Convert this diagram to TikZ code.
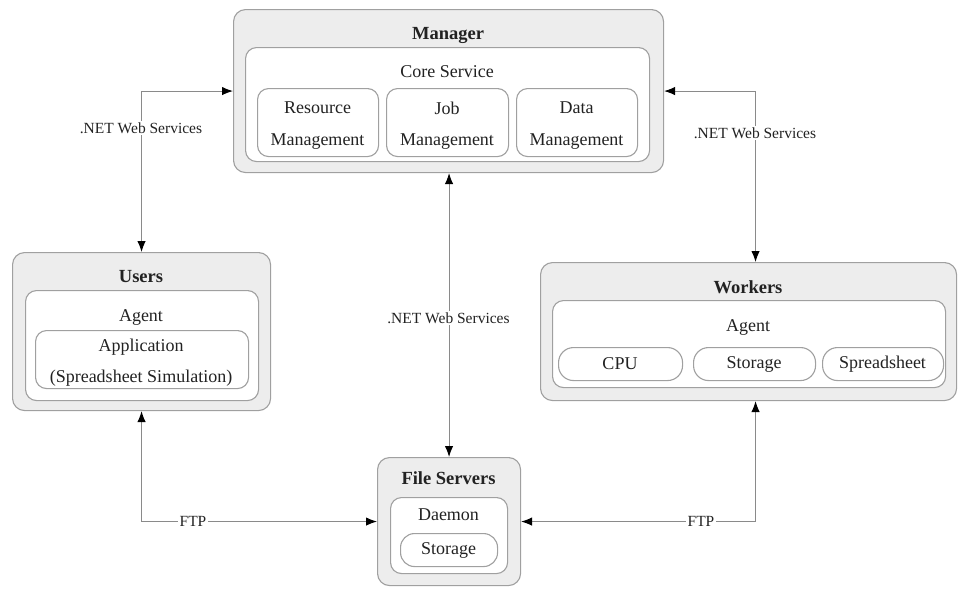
\documentclass[tikz,border=0pt]{standalone}
\usepackage{fontspec}
\setmainfont{Liberation Serif}
\usetikzlibrary{arrows.meta}
\definecolor{boxline}{HTML}{A0A0A0}
\definecolor{boxfill}{HTML}{EDEDED}
\definecolor{connline}{HTML}{8A8A8A}
\definecolor{txt}{HTML}{222222}
\begin{document}
\begin{tikzpicture}[x=1pt,y=-1pt,
  outerbox/.style={draw=boxline, fill=boxfill, rounded corners=12pt, line width=1.1pt, anchor=north west, inner sep=0pt},
  innerbox/.style={draw=boxline, fill=white, rounded corners=11pt, line width=1.1pt, anchor=north west, inner sep=0pt},
  lbl/.style={font=\fontsize{18}{20}\selectfont, text=txt, inner sep=0pt},
  ttl/.style={font=\fontsize{18.5}{20}\selectfont\bfseries, text=txt, inner sep=0pt},
  conn/.style={draw=connline, line width=1pt, {Latex[black,length=11pt,width=8.5pt]}-{Latex[black,length=11pt,width=8.5pt]}},
  clbl/.style={font=\fontsize{15.5}{17}\selectfont, text=txt, fill=white, inner sep=2pt}
]
\useasboundingbox (0,0) rectangle (959,592);

% Manager
\node[outerbox, minimum width=430pt, minimum height=163pt] (mgr) at (233,9) {};
\node[innerbox, minimum width=404pt, minimum height=114pt] (core) at (245,47) {};
\node[innerbox, minimum width=121pt, minimum height=68pt] (res) at (257,88) {};
\node[innerbox, minimum width=122pt, minimum height=68pt] (job) at (386,88) {};
\node[innerbox, minimum width=121pt, minimum height=68pt] (data) at (516,88) {};
\node[ttl] (mgrt) at (448,35) {Manager};
\node[lbl] (coret) at (447,72) {Core Service};
\node[lbl] (rest1) at (317.5,108) {Resource};
\node[lbl] (rest2) at (317.5,142) {Management};
\node[lbl] (jobt1) at (447,108) {Job};
\node[lbl] (jobt2) at (447,142) {Management};
\node[lbl] (datat1) at (576.5,108) {Data};
\node[lbl] (datat2) at (576.5,142) {Management};

% Users
\node[outerbox, minimum width=258pt, minimum height=158pt] (users) at (12,252) {};
\node[innerbox, minimum width=233pt, minimum height=110pt] (uagent) at (25,290) {};
\node[innerbox, minimum width=213pt, minimum height=58pt] (app) at (35,330) {};
\node[ttl] (userst) at (141,277) {Users};
\node[lbl] (uagentt) at (141,317) {Agent};
\node[lbl] (appt1) at (141,347) {Application};
\node[lbl] (appt2) at (141,378) {(Spreadsheet Simulation)};

% Workers
\node[outerbox, minimum width=416pt, minimum height=138pt] (workers) at (540,262) {};
\node[innerbox, minimum width=393pt, minimum height=87pt] (wagent) at (552,300) {};
\node[innerbox, minimum width=124pt, minimum height=33pt, rounded corners=15pt] (cpu) at (558,347) {};
\node[innerbox, minimum width=122pt, minimum height=33pt, rounded corners=15pt] (wstor) at (693,347) {};
\node[innerbox, minimum width=121pt, minimum height=33pt, rounded corners=15pt] (sheet) at (822,347) {};
\node[ttl] (workerst) at (748,287) {Workers};
\node[lbl] (wagentt) at (748,327) {Agent};
\node[lbl] (cput) at (620,364) {CPU};
\node[lbl] (wstort) at (754,364) {Storage};
\node[lbl] (sheett) at (882.5,364) {Spreadsheet};

% File Servers
\node[outerbox, minimum width=143pt, minimum height=128pt] (fs) at (377,457) {};
\node[innerbox, minimum width=117pt, minimum height=76pt] (daemon) at (390,497) {};
\node[innerbox, minimum width=97pt, minimum height=33pt, rounded corners=14pt] (fstor) at (400,533) {};
\node[ttl] (fst) at (448.5,478) {File Servers};
\node[lbl] (daemont) at (448.5,515) {Daemon};
\node[lbl] (fstort) at (448.5,550) {Storage};

% Connectors
\coordinate (wtop) at ([xshift=7pt]workers.north);
\coordinate (wbot) at ([xshift=7pt]workers.south);
\draw[conn] (users.north) |- (mgr.west);
\draw[conn] (mgr.east) -| (wtop);
\draw[conn] (mgr.south -| fs.north) -- (fs.north);
\draw[conn] (users.south) |- (fs.west);
\draw[conn] (wbot) |- (fs.east);

% Connector labels
\node[clbl] (l1) at (141,128) {.NET Web Services};
\node[clbl] (l2) at (755,133) {.NET Web Services};
\node[clbl] (l3) at (448.5,318) {.NET Web Services};
\node[clbl] (l4) at (193,521) {FTP};
\node[clbl] (l5) at (701,521) {FTP};
\end{tikzpicture}
\end{document}
